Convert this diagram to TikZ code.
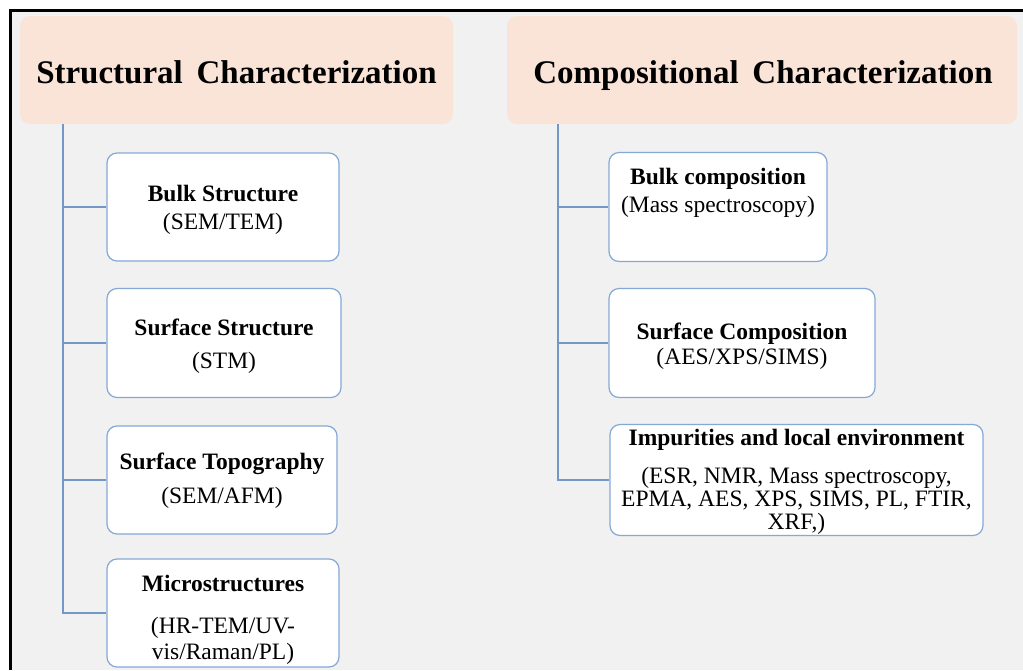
\documentclass[tikz,border=0pt]{standalone}
\usepackage{fontspec}
\setmainfont{Liberation Serif}
\definecolor{bg}{HTML}{F1F1F1}
\definecolor{peach}{HTML}{FAE4D8}
\definecolor{boxline}{HTML}{85A8D6}
\definecolor{connline}{HTML}{7597C6}
\tikzset{
  x=1pt, y=-1pt,
  header/.style={fill=peach, draw=none, rounded corners=10pt, inner sep=0pt},
  cbox/.style={fill=white, draw=boxline, line width=1.2pt, rounded corners=10pt, inner sep=0pt},
  conn/.style={draw=connline, line width=1.2pt},
  htext/.style={font=\fontsize{33}{38}\selectfont\bfseries, anchor=base, inner sep=0pt},
  btext/.style={font=\fontsize{23.5}{27}\selectfont\bfseries, anchor=base, inner sep=0pt},
  ntext/.style={font=\fontsize{23.5}{27}\selectfont, anchor=base, inner sep=0pt},
}
\begin{document}
\begin{tikzpicture}
\useasboundingbox (0,0) rectangle (1023,670);
\fill[white] (0,0) rectangle (1023,670);
\fill[bg] (11,11) rectangle (1023,670);
\draw[line width=2.6pt] (10.5,670) -- (10.5,10.5) -- (1023,10.5);

% headers
\node[header, minimum width=433pt, minimum height=108pt] (h1) at (236.5,70) {};
\node[header, minimum width=510pt, minimum height=108pt] (h2) at (762,70) {};
\node[htext] (h1t) at (236.5,83) {Structural\, Characterization};
\node[htext] (h2t) at (763,83) {Compositional\, Characterization};

% left column boxes
\node[cbox, minimum width=232pt, minimum height=108pt] (l1) at (223,207) {};
\node[cbox, minimum width=234pt, minimum height=109pt] (l2) at (224,343) {};
\node[cbox, minimum width=230pt, minimum height=108pt] (l3) at (222,480) {};
\node[cbox, minimum width=232pt, minimum height=108pt] (l4) at (223,613) {};

\node[btext] (l1a) at (223,201) {Bulk Structure};
\node[ntext] (l1b) at (223,229) {(SEM/TEM)};
\node[btext] (l2a) at (224,335) {Surface Structure};
\node[ntext] (l2b) at (224,368) {(STM)};
\node[btext] (l3a) at (222,469) {Surface Topography};
\node[ntext] (l3b) at (222,503) {(SEM/AFM)};
\node[btext] (l4a) at (223,591) {Microstructures};
\node[ntext] (l4b) at (223,633) {(HR-TEM/UV-};
\node[ntext] (l4c) at (223,659) {vis/Raman/PL)};

% right column boxes
\node[cbox, minimum width=218pt, minimum height=109pt] (r1) at (718,207) {};
\node[cbox, minimum width=266pt, minimum height=109pt] (r2) at (742,343) {};
\node[cbox, minimum width=373pt, minimum height=111pt] (r3) at (796.5,480) {};

\node[btext] (r1a) at (718,184) {Bulk composition};
\node[ntext] (r1b) at (718,212) {(Mass spectroscopy)};
\node[btext] (r2a) at (742,339) {Surface Composition};
\node[ntext] (r2b) at (742,364) {(AES/XPS/SIMS)};
\node[btext] (r3a) at (796.5,445) {Impurities and local environment};
\node[ntext] (r3b) at (796.5,483) {(ESR, NMR, Mass spectroscopy,};
\node[ntext] (r3c) at (796.5,506) {EPMA, AES, XPS, SIMS, PL, FTIR,};
\node[ntext] (r3d) at (796.5,529) {XRF,)};

% trunks
\coordinate (tl) at (63,0);
\coordinate (tr) at (558,0);
\draw[conn] (h1.south -| tl) |- (l4.west);
\draw[conn] (l1.west -| tl) -- (l1.west);
\draw[conn] (l2.west -| tl) -- (l2.west);
\draw[conn] (l3.west -| tl) -- (l3.west);
\draw[conn] (h2.south -| tr) |- (r3.west);
\draw[conn] (r1.west -| tr) -- (r1.west);
\draw[conn] (r2.west -| tr) -- (r2.west);
\end{tikzpicture}
\end{document}
